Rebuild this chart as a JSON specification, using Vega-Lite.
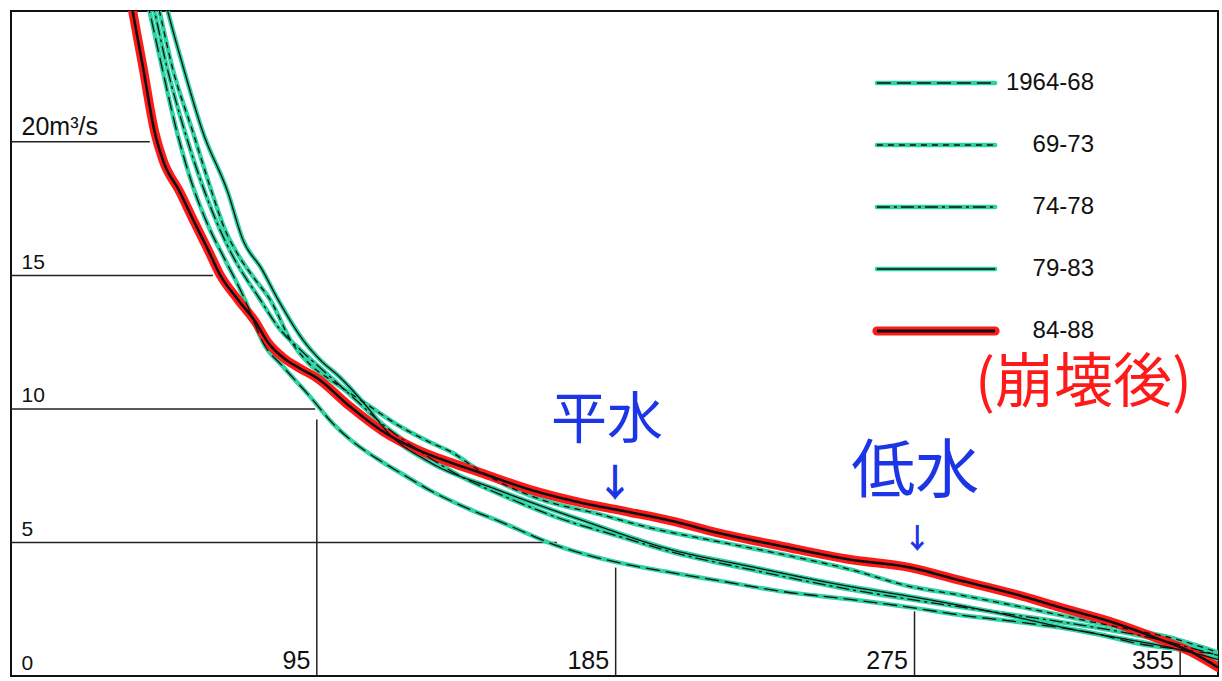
{
  "$schema": "https://vega.github.io/schema/vega-lite/v6.json",
  "width": 1207,
  "height": 665,
  "autosize": {"type": "none"},
  "padding": {"left": 11, "top": 11, "right": 4, "bottom": 5},
  "background": "white",
  "config": {"view": {"stroke": "#111", "strokeWidth": 2}, "font": "Liberation Sans"},
  "datasets": {
    "curves": [
      {"series":"1964-68","day":43.8,"q":25.34},{"series":"1964-68","day":44.7,"q":24.85},{"series":"1964-68","day":48.3,"q":22.83},{"series":"1964-68","day":52.9,"q":20.36},{"series":"1964-68","day":58.3,"q":18.11},{"series":"1964-68","day":62.8,"q":16.72},{"series":"1964-68","day":67.3,"q":15.6},{"series":"1964-68","day":73.3,"q":14.1},{"series":"1964-68","day":76.4,"q":13.16},{"series":"1964-68","day":78.8,"q":12.49},{"series":"1964-68","day":84.8,"q":11.59},{"series":"1964-68","day":92.9,"q":10.47},{"series":"1964-68","day":99.8,"q":9.46},{"series":"1964-68","day":105.0,"q":8.86},{"series":"1964-68","day":114.9,"q":8.0},{"series":"1964-68","day":120.0,"q":7.62},{"series":"1964-68","day":129.1,"q":6.95},{"series":"1964-68","day":141.1,"q":6.24},{"series":"1964-68","day":150.2,"q":5.78},{"series":"1964-68","day":167.3,"q":4.88},{"series":"1964-68","day":184.2,"q":4.29},{"series":"1964-68","day":201.4,"q":3.88},{"series":"1964-68","day":215.5,"q":3.58},{"series":"1964-68","day":235.4,"q":3.16},{"series":"1964-68","day":255.6,"q":2.87},{"series":"1964-68","day":273.7,"q":2.57},{"series":"1964-68","day":287.8,"q":2.3},{"series":"1964-68","day":307.7,"q":2.0},{"series":"1964-68","day":327.9,"q":1.63},{"series":"1964-68","day":343.8,"q":1.18},{"series":"1964-68","day":354.9,"q":1.0},{"series":"1964-68","day":366.4,"q":0.81},
      {"series":"69-73","day":46.8,"q":25.34},{"series":"69-73","day":47.7,"q":24.85},{"series":"69-73","day":51.4,"q":22.83},{"series":"69-73","day":57.7,"q":20.36},{"series":"69-73","day":63.4,"q":18.11},{"series":"69-73","day":67.3,"q":16.72},{"series":"69-73","day":71.2,"q":15.79},{"series":"69-73","day":76.4,"q":14.85},{"series":"69-73","day":80.9,"q":14.1},{"series":"69-73","day":87.5,"q":12.49},{"series":"69-73","day":92.9,"q":11.67},{"series":"69-73","day":99.8,"q":11.03},{"series":"69-73","day":110.1,"q":10.17},{"series":"69-73","day":120.0,"q":9.35},{"series":"69-73","day":129.1,"q":8.75},{"series":"69-73","day":136.0,"q":8.35},{"series":"69-73","day":142.0,"q":7.85},{"series":"69-73","day":150.2,"q":7.25},{"series":"69-73","day":162.2,"q":6.62},{"series":"69-73","day":180.3,"q":6.05},{"series":"69-73","day":195.3,"q":5.55},{"series":"69-73","day":215.5,"q":5.04},{"series":"69-73","day":235.4,"q":4.55},{"series":"69-73","day":255.6,"q":3.99},{"series":"69-73","day":273.7,"q":3.35},{"series":"69-73","day":287.8,"q":3.05},{"series":"69-73","day":307.7,"q":2.57},{"series":"69-73","day":327.9,"q":2.04},{"series":"69-73","day":339.9,"q":1.74},{"series":"69-73","day":351.9,"q":1.44},{"series":"69-73","day":366.4,"q":0.88},
      {"series":"74-78","day":45.3,"q":25.34},{"series":"74-78","day":46.2,"q":24.85},{"series":"74-78","day":49.8,"q":22.83},{"series":"74-78","day":55.3,"q":20.36},{"series":"74-78","day":61.3,"q":18.11},{"series":"74-78","day":65.8,"q":16.72},{"series":"74-78","day":69.4,"q":15.79},{"series":"74-78","day":77.9,"q":14.1},{"series":"74-78","day":83.9,"q":12.98},{"series":"74-78","day":89.9,"q":12.23},{"series":"74-78","day":95.9,"q":11.55},{"series":"74-78","day":105.0,"q":10.54},{"series":"74-78","day":114.9,"q":9.42},{"series":"74-78","day":126.1,"q":8.41},{"series":"74-78","day":139.0,"q":7.43},{"series":"74-78","day":150.2,"q":6.8},{"series":"74-78","day":169.1,"q":5.86},{"series":"74-78","day":186.3,"q":5.22},{"series":"74-78","day":201.4,"q":4.66},{"series":"74-78","day":225.5,"q":3.99},{"series":"74-78","day":255.6,"q":3.24},{"series":"74-78","day":273.7,"q":2.87},{"series":"74-78","day":297.7,"q":2.42},{"series":"74-78","day":327.9,"q":1.85},{"series":"74-78","day":345.9,"q":1.44},{"series":"74-78","day":366.4,"q":0.77},
      {"series":"79-83","day":49.2,"q":25.34},{"series":"79-83","day":50.2,"q":24.85},{"series":"79-83","day":54.7,"q":22.83},{"series":"79-83","day":60.7,"q":20.36},{"series":"79-83","day":68.2,"q":18.11},{"series":"79-83","day":72.7,"q":16.35},{"series":"79-83","day":78.5,"q":15.22},{"series":"79-83","day":83.3,"q":14.1},{"series":"79-83","day":91.4,"q":12.49},{"series":"79-83","day":95.9,"q":11.85},{"series":"79-83","day":102.0,"q":11.18},{"series":"79-83","day":109.5,"q":10.17},{"series":"79-83","day":117.0,"q":9.04},{"series":"79-83","day":129.1,"q":8.0},{"series":"79-83","day":149.2,"q":6.98},{"series":"79-83","day":174.2,"q":5.86},{"series":"79-83","day":201.4,"q":4.74},{"series":"79-83","day":225.5,"q":4.1},{"series":"79-83","day":255.6,"q":3.35},{"series":"79-83","day":273.7,"q":2.98},{"series":"79-83","day":297.7,"q":2.42},{"series":"79-83","day":322.7,"q":1.74},{"series":"79-83","day":339.0,"q":1.37},{"series":"79-83","day":351.9,"q":1.07},{"series":"79-83","day":366.4,"q":0.62},
      {"series":"84-88","day":38.9,"q":25.34},{"series":"84-88","day":39.6,"q":24.85},{"series":"84-88","day":42.6,"q":22.83},{"series":"84-88","day":46.2,"q":20.36},{"series":"84-88","day":48.6,"q":19.34},{"series":"84-88","day":53.8,"q":18.11},{"series":"84-88","day":57.7,"q":17.1},{"series":"84-88","day":62.2,"q":15.97},{"series":"84-88","day":65.8,"q":15.04},{"series":"84-88","day":71.2,"q":14.1},{"series":"84-88","day":76.4,"q":13.28},{"series":"84-88","day":80.3,"q":12.49},{"series":"84-88","day":84.8,"q":11.93},{"series":"84-88","day":89.9,"q":11.52},{"series":"84-88","day":95.0,"q":11.16},{"series":"84-88","day":105.0,"q":10.09},{"series":"84-88","day":114.9,"q":9.16},{"series":"84-88","day":125.2,"q":8.48},{"series":"84-88","day":135.1,"q":8.0},{"series":"84-88","day":144.1,"q":7.62},{"series":"84-88","day":159.2,"q":6.98},{"series":"84-88","day":174.2,"q":6.5},{"series":"84-88","day":189.3,"q":6.13},{"series":"84-88","day":201.4,"q":5.82},{"series":"84-88","day":215.5,"q":5.37},{"series":"84-88","day":235.4,"q":4.85},{"series":"84-88","day":255.6,"q":4.36},{"series":"84-88","day":273.7,"q":4.06},{"series":"84-88","day":287.8,"q":3.61},{"series":"84-88","day":307.7,"q":2.98},{"series":"84-88","day":318.8,"q":2.57},{"series":"84-88","day":333.9,"q":2.04},{"series":"84-88","day":348.9,"q":1.37},{"series":"84-88","day":358.0,"q":0.92},{"series":"84-88","day":366.4,"q":0.32}
    ],
    "hlines": [
      {"q":20,"day":2.9,"day2":44.7},{"q":15,"day":2.9,"day2":63.7},{"q":10,"day":2.9,"day2":94.5},{"q":5,"day":2.9,"day2":167.3}
    ],
    "vlines": [
      {"day":95,"q":0,"q2":9.6},{"day":185,"q":0,"q2":4.06},{"day":275,"q":0,"q2":2.42},{"day":355,"q":0,"q2":0.92}
    ]
  },
  "encoding": {
    "x": {"field": "day", "type": "quantitative", "scale": {"domain": [2.9, 366.4], "nice": false, "zero": false},
      "axis": {"title": null, "values": [95,185,275,355], "grid": false, "domain": false, "ticks": false, "tickSize": 0, "labelPadding": -8, "labelOffset": -7, "labelBaseline": "alphabetic", "labelAlign": "right", "labelFontSize": 25, "labelColor": "#111", "labelFont": "Liberation Sans", "labelFlush": false, "labelOverlap": false}},
    "y": {"field": "q", "type": "quantitative", "scale": {"domain": [0, 24.9], "nice": false},
      "axis": {"title": null, "values": [0,5,10,15,20], "grid": false, "domain": false, "ticks": false, "tickSize": 0, "labelPadding": -10, "labelAlign": "left", "labelBaseline": "alphabetic", "labelOffset": -7, "labelColor": "#111", "labelFont": "Liberation Sans", "labelFlush": false, "labelOverlap": false,
        "labelFontSize": {"condition": {"test": "datum.value == 20", "value": 25}, "value": 21},
        "labelExpr": "datum.value == 20 ? '20m³/s' : datum.value == 5 ? '\u2005' + datum.label : datum.value == 0 ? '\u2002' + datum.label : datum.label"}}
  },
  "layer": [
    {"data": {"name": "hlines"}, "mark": {"type": "rule", "color": "#222", "strokeWidth": 1.5}, "encoding": {"x2": {"field": "day2"}}},
    {"data": {"name": "vlines"}, "mark": {"type": "rule", "color": "#222", "strokeWidth": 1.5}, "encoding": {"y2": {"field": "q2"}}},
    {"data": {"name": "curves"}, "transform": [{"filter": "datum.series !== '84-88'"}],
      "mark": {"type": "line", "interpolate": "monotone", "clip": true, "strokeWidth": 4.5, "strokeCap": "round", "strokeJoin": "round"},
      "encoding": {
        "color": {"field": "series", "type": "nominal", "scale": {"domain": ["1964-68","69-73","74-78","79-83","84-88"], "range": ["#2ed3a3","#2ed3a3","#2ed3a3","#2ed3a3","#ff1a1a"]},
          "legend": {"orient": "none", "legendX": 866, "legendY": 60, "title": null, "padding": 0, "symbolType": "M-19.7,0H19.7", "symbolSize": 36, "symbolOffset": 47, "labelFontSize": 24, "labelFont": "Liberation Sans", "labelColor": "#111", "labelAlign": "right", "labelOffset": 146, "rowPadding": 38, "zindex": 0,
            "encode": {"symbols": {"update": {"strokeWidth": {"signal": "(datum.value === '84-88' ? 9 : 4.5)"}, "strokeCap": {"value": "round"}, "strokeJoin": {"value": "round"}}}}}}
      }},
    {"data": {"name": "curves"}, "transform": [{"filter": "datum.series === '84-88'"}],
      "mark": {"type": "line", "interpolate": "monotone", "clip": true, "strokeWidth": 9, "strokeCap": "round", "strokeJoin": "round"},
      "encoding": {
        "color": {"field": "series", "type": "nominal"}
      }},
    {"data": {"name": "curves"}, "mark": {"type": "line", "interpolate": "monotone", "clip": true, "color": "#111"},
      "encoding": {
        "strokeDash": {"field": "series", "type": "nominal", "scale": {"range": [[14,6],[6,5],[13,4,3,4],[1,0],[1,0]]},
          "legend": {"orient": "none", "legendX": 866, "legendY": 60, "title": null, "padding": 0, "symbolType": "M-19.7,0H19.7", "symbolSize": 36, "symbolOffset": 47, "symbolStrokeColor": "#111", "symbolStrokeWidth": 1.4, "labelFontSize": 24, "labelFont": "Liberation Sans", "labelExpr": "''", "labelAlign": "right", "labelOffset": 146, "rowPadding": 38, "zindex": 1,
            "encode": {"symbols": {"update": {"strokeWidth": {"signal": "(datum.value === '84-88' ? 3.2 : 1.4)"}, "strokeJoin": {"value": "round"}}}}}},
        "strokeWidth": {"condition": {"test": "datum.series === '84-88'", "value": 2.6}, "value": 1.3}
      }},
    {"data": {"values": [{"t": "平水", "day": 182.4, "q": 9.55}]}, "mark": {"type": "text", "font": "Noto Sans CJK JP", "fontSize": 56, "color": "#1c35e6", "align": "center", "baseline": "middle"}, "encoding": {"text": {"field": "t"}}},
    {"data": {"values": [{"t": "低水", "day": 275.2, "q": 7.6}]}, "mark": {"type": "text", "font": "Noto Sans CJK JP", "fontSize": 64, "color": "#1c35e6", "align": "center", "baseline": "middle"}, "encoding": {"text": {"field": "t"}}},
    {"data": {"values": [{"t": "↓", "day": 184.8, "q": 7.15}]}, "mark": {"type": "text", "font": "Noto Sans CJK JP", "fontSize": 38, "fontWeight": "bold", "color": "#1c35e6", "align": "center", "baseline": "middle"}, "encoding": {"text": {"field": "t"}}},
    {"data": {"values": [{"t": "↓", "day": 275.8, "q": 5.05}]}, "mark": {"type": "text", "font": "Noto Sans CJK JP", "fontSize": 28, "fontWeight": "bold", "color": "#1c35e6", "align": "center", "baseline": "middle"}, "encoding": {"text": {"field": "t"}}},
    {"data": {"values": [{"t": "(崩壊後)", "day": 293.2, "q": 10.95}]}, "mark": {"type": "text", "font": "Noto Sans CJK JP", "fontSize": 59, "color": "#ff1a1a", "align": "left", "baseline": "middle"}, "encoding": {"text": {"field": "t"}}}
  ]
}
